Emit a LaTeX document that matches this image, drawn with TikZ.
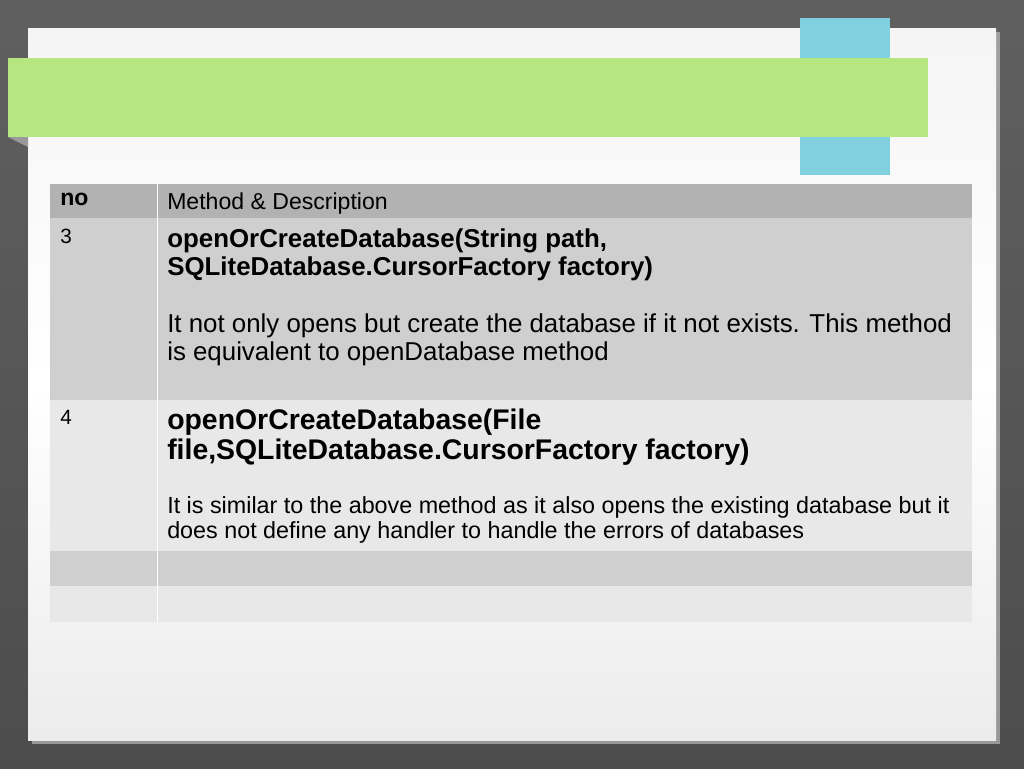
\documentclass[tikz,border=0pt]{standalone}
\usepackage{fontspec}
\setmainfont{Liberation Sans}
\begin{document}
\begin{tikzpicture}[x=0.75pt,y=-0.75pt,
  cell/.style={anchor=north west,inner sep=0pt,align=flush left},
  txt/.style={cell,text width=795*0.75pt}]
\useasboundingbox (0,0) rectangle (1024,768);
\definecolor{grn}{HTML}{B5E67F}
\definecolor{blu}{HTML}{80D0E0}
\fill[top color=gray!75!black,bottom color=gray!60!black] (0,0) rectangle (1024,768);
\fill[black!20,opacity=0.6] (32,32) rectangle (1000,744);
\shade[top color=white!92!gray,bottom color=white!85!gray,middle color=white] (28,28) rectangle (996,740);
\fill[blu] (800,18) rectangle (890,175);
\fill[grn] (8,58) rectangle (928,137);
\fill[black!40] (8,137) -- (28,137) -- (28,147) -- cycle;
% table
\fill[black!30] (50,184) rectangle (972,218);
\fill[black!19] (50,218) rectangle (972,400);
\fill[black!9] (50,400) rectangle (972,551);
\fill[black!19] (50,551) rectangle (972,586);
\fill[black!9] (50,586) rectangle (972,622);
\draw[white,line width=0.6pt] (157,184) -- (157,622);
\node[cell,font=\bfseries\fontsize{17.3}{20}\selectfont] (h1) at (60,193) {no};
\node[cell,font=\fontsize{17.3}{20}\selectfont] (h2) at (167,193) {Method \& Description};
\node[cell,font=\fontsize{15.5}{18}\selectfont] (n3) at (60,229) {3};
\node[txt,font=\fontsize{19.4}{21}\selectfont] (d3) at (167,228) {\textbf{openOrCreateDatabase(String path,\\SQLiteDatabase.CursorFactory factory)}\\[22pt]It not only opens but create the database if it not exists. This method is equivalent to openDatabase method};
\node[cell,font=\fontsize{15.5}{18}\selectfont] (n4) at (60,410) {4};
\node[txt,font=\bfseries\fontsize{21.3}{22.5}\selectfont] (d4a) at (167,409) {openOrCreateDatabase(File\\file,SQLiteDatabase.CursorFactory factory)};
\node[txt,font=\fontsize{17.5}{18.8}\selectfont] (d4b) at (167,496) {It is similar to the above method as it also opens the existing database but it does not define any handler to handle the errors of databases};
\end{tikzpicture}
\end{document}
